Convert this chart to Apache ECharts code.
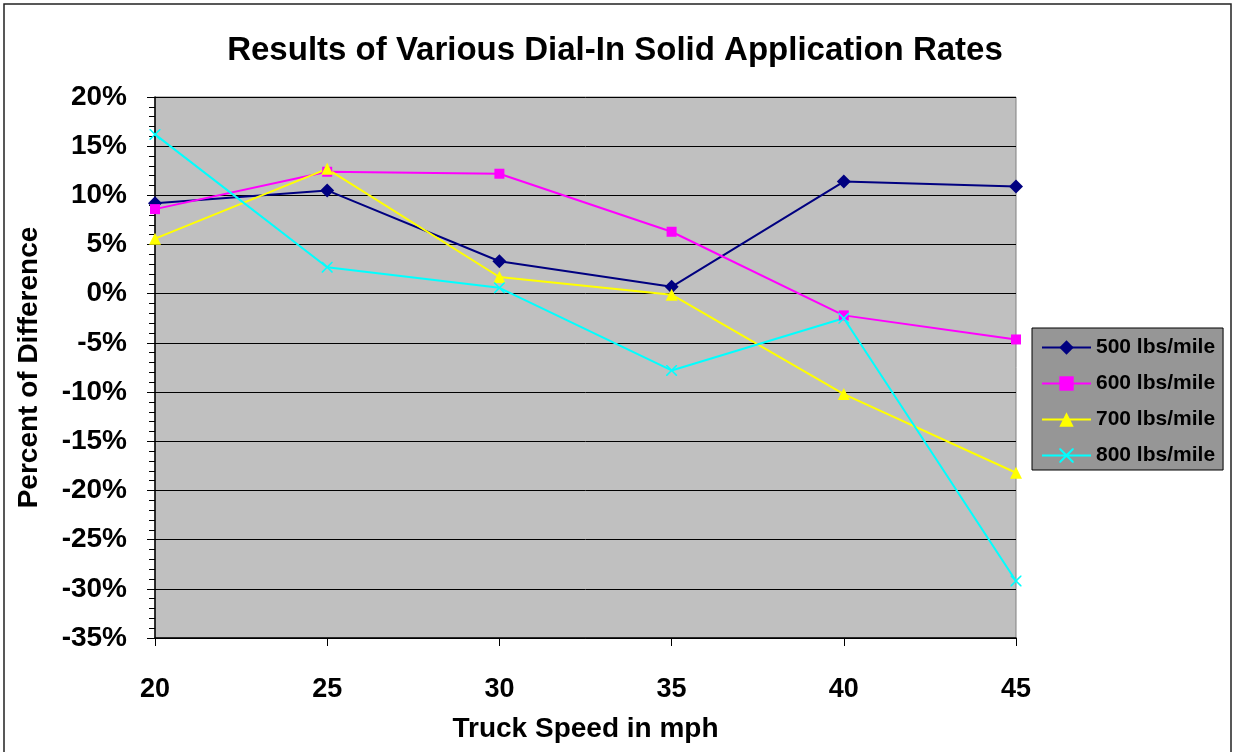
<!DOCTYPE html>
<html>
<head>
<meta charset="utf-8">
<script src="https://cdn.jsdelivr.net/npm/echarts@6/dist/echarts.min.js"></script>
<style>
  html, body { margin: 0; padding: 0; background: #fff; }
  #chart { width: 1233px; height: 752px; }
</style>
</head>
<body>
<div id="chart"></div>
<script>
// truck speed (mph)
const speeds = [20, 25, 30, 35, 40, 45];
// percent of difference
const rate500 = [9.2, 10.5, 3.3, 0.7, 11.4, 10.9];
const rate600 = [8.6, 12.4, 12.2, 6.3, -2.2, -4.65];
const rate700 = [5.6, 12.7, 1.7, -0.1, -10.2, -18.2];
const rate800 = [16.2, 2.7, 0.6, -7.8, -2.5, -29.2];
const seriesNames = ["500 lbs/mile", "600 lbs/mile", "700 lbs/mile", "800 lbs/mile"];

const font = "Arial, 'Liberation Sans', sans-serif";
// thin X marker like excel's
const xMark = "path://M0,0L1,0L5,4L9,0L10,0L10,1L6,5L10,9L10,10L9,10L5,6L1,10L0,10L0,9L4,5L0,1Z";

function pairs(vals) {
  return speeds.map((s, i) => [s, vals[i]]);
}

const chart = echarts.init(document.getElementById("chart"));

const option = {
  animation: false,
  textStyle: { fontFamily: font },
  graphic: [{
    type: "rect",
    shape: { x: 4, y: 4, width: 1227, height: 760 },
    style: { fill: null, stroke: "#222", lineWidth: 1.5 },
    silent: true
  }],
  title: {
    text: "Results of Various Dial-In Solid Application Rates",
    left: 610,
    textAlign: "center",
    top: 29,
    textStyle: { fontSize: 33, fontWeight: "bold", color: "#000", fontFamily: font }
  },
  legend: {
    orient: "vertical",
    left: 1032,
    top: 328,
    backgroundColor: "#969696",
    borderColor: "#000",
    borderWidth: 1,
    padding: [9, 8, 4, 9],
    itemWidth: 49,
    itemHeight: 18,
    itemGap: 15,
    textStyle: { fontSize: 21, fontWeight: "bold", color: "#000", fontFamily: font },
    data: seriesNames
  },
  grid: {
    left: 155,
    right: 217,
    top: 97,
    bottom: 114,
    show: true,
    backgroundColor: "#c0c0c0",
    borderColor: "#808080",
    borderWidth: 1
  },
  xAxis: {
    type: "value",
    min: 20,
    max: 45,
    interval: 5,
    name: "Truck Speed in mph",
    nameLocation: "middle",
    nameGap: 77,
    nameTextStyle: { fontSize: 28, fontWeight: "bold", color: "#000" },
    axisLine: { show: true, onZero: false, lineStyle: { color: "#000", width: 1.5 } },
    axisTick: { show: true, length: 8, inside: false, lineStyle: { color: "#000" } },
    axisLabel: { fontSize: 27, fontWeight: "bold", color: "#000", margin: 38 },
    splitLine: { show: false }
  },
  yAxis: {
    type: "value",
    min: -35,
    max: 20,
    interval: 5,
    name: "Percent of Difference",
    nameLocation: "middle",
    nameGap: 112,
    nameTextStyle: { fontSize: 28, fontWeight: "bold", color: "#000" },
    axisLine: { show: true, onZero: false, lineStyle: { color: "#000", width: 1.5 } },
    axisTick: { show: true, length: 8, lineStyle: { color: "#000" } },
    minorTick: { show: true, splitNumber: 5, length: 6, lineStyle: { color: "#000" } },
    axisLabel: { fontSize: 28, fontWeight: "bold", color: "#000", margin: 28, formatter: "{value}%" },
    splitLine: { show: true, lineStyle: { color: "#000", width: 1 } }
  },
  series: [
    {
      name: seriesNames[0], type: "line", data: pairs(rate500),
      symbol: "diamond", symbolSize: 14,
      itemStyle: { color: "#000080" }, lineStyle: { color: "#000080", width: 2 }
    },
    {
      name: seriesNames[1], type: "line", data: pairs(rate600),
      symbol: "rect", symbolSize: 10,
      itemStyle: { color: "#ff00ff" }, lineStyle: { color: "#ff00ff", width: 2 }
    },
    {
      name: seriesNames[2], type: "line", data: pairs(rate700),
      symbol: "triangle", symbolSize: 12,
      itemStyle: { color: "#ffff00" }, lineStyle: { color: "#ffff00", width: 2 }
    },
    {
      name: seriesNames[3], type: "line", data: pairs(rate800),
      symbol: xMark, symbolSize: 11,
      itemStyle: { color: "#00ffff" }, lineStyle: { color: "#00ffff", width: 2 }
    }
  ]
};

chart.setOption(option);
</script>
</body>
</html>
